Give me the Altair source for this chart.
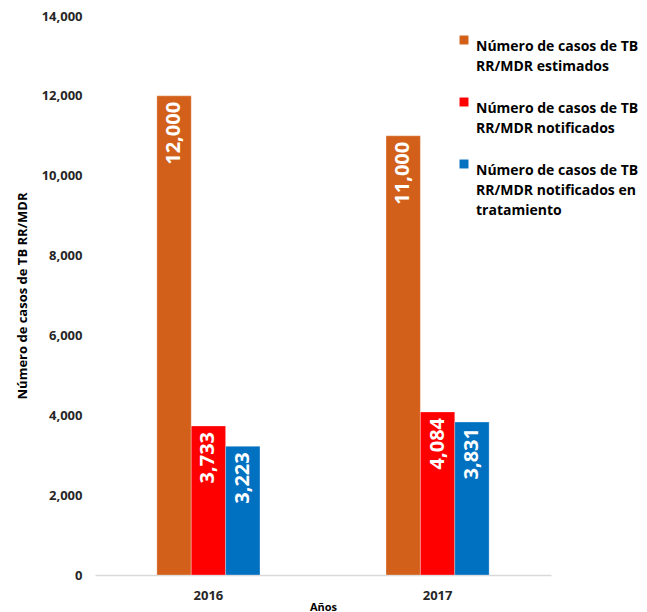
import altair as alt
import pandas as pd

years = ["2016", "2017"]
series = [
    "Número de casos de TB\nRR/MDR estimados",
    "Número de casos de TB\nRR/MDR notificados",
    "Número de casos de TB\nRR/MDR notificados en\ntratamiento",
]
values = {
    "2016": [12000, 3733, 3223],
    "2017": [11000, 4084, 3831],
}
colors = ["#D2601A", "#FF0000", "#0070C0"]
y_ticks = [0, 2000, 4000, 6000, 8000, 10000, 12000, 14000]

rows = []
for y in years:
    for i, s in enumerate(series):
        rows.append({"year": y, "series": s, "order": i, "value": values[y][i]})
df = pd.DataFrame(rows)

FONT = "Open Sans"

base = alt.Chart(df).encode(
    x=alt.X(
        "year:N",
        title="Años",
        scale=alt.Scale(paddingInner=0.55, paddingOuter=0.27),
        axis=alt.Axis(
            labelAngle=0, labelFontSize=13, labelFontWeight="bold", labelColor="#262626",
            labelPadding=14, ticks=False, domainColor="#D9D9D9", domainWidth=1.5,
            titleFontSize=11, titleFontWeight="bold", titleColor="#000000", titlePadding=-1,
        ),
    ),
    xOffset=alt.XOffset("series:N", sort=series, scale=alt.Scale(paddingInner=0, paddingOuter=0)),
    y=alt.Y(
        "value:Q",
        title="Número de casos de TB RR/MDR",
        scale=alt.Scale(domain=[0, 14000], nice=False),
        axis=alt.Axis(
            values=y_ticks, format=",d", grid=False, domain=False, ticks=False,
            labelFontSize=13, labelFontWeight="bold", labelColor="#262626", labelPadding=13,
            titleFontSize=13, titleFontWeight="bold", titleColor="#000000", titlePadding=12,
        ),
    ),
)

bars = base.mark_bar(stroke="#FFFFFF", strokeWidth=0.5, strokeOpacity=0.6).encode(
    color=alt.Color(
        "series:N",
        sort=series,
        scale=alt.Scale(domain=series, range=colors),
        legend=alt.Legend(
            title=None, orient="none", legendX=362, legendY=17,
            symbolType="square", symbolSize=80, symbolStrokeWidth=0,
            labelFontSize=14, labelFontWeight="bold", labelColor="#000000",
            labelLimit=400, labelBaseline="top", labelOffset=5,
            labelExpr="split(datum.label, '\\n')", rowPadding=21, padding=0,
        ),
    )
)

labels = base.mark_text(
    angle=270, align="right", baseline="middle", dx=-6, color="white",
    fontSize=20, fontWeight="bold", font=FONT,
).encode(text=alt.Text("value:Q", format=",d"))

chart = (bars + labels).properties(
    width=456, height=559,
    autosize=alt.AutoSizeParams(type="none"),
    padding={"left": 87, "top": 8, "right": 88, "bottom": 40},
).configure(
    font=FONT, style={"guide-label": {"lineHeight": 20}}
).configure_view(stroke=None)

chart.save("out.html", embed_options={"renderer": "svg", "actions": False})
